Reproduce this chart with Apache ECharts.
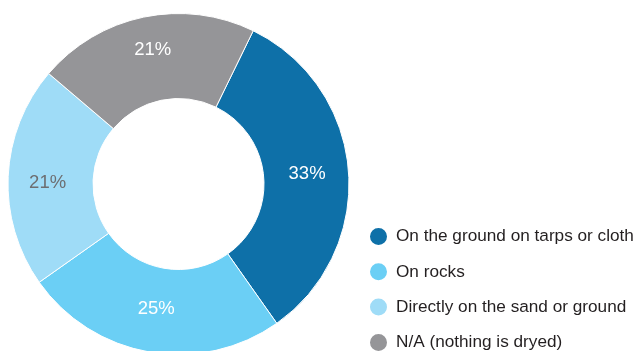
<!DOCTYPE html>
<html>
<head>
<meta charset="utf-8">
<script src="https://cdn.jsdelivr.net/npm/echarts@6/dist/echarts.min.js"></script>
<style>
  html, body { margin: 0; padding: 0; background: #ffffff; }
  #chart { width: 638px; height: 351px; }
</style>
</head>
<body>
<div id="chart"></div>
<script>
// Where the catch is dried
const categories = [
  'On the ground on tarps or cloth',
  'On rocks',
  'Directly on the sand or ground',
  'N/A (nothing is dryed)'
];
const shares = [33, 25, 21, 21];
const colors = ['#0e70a8', '#6bcff5', '#9fdcf7', '#959598'];
const labelColors = ['#ffffff', '#ffffff', '#6d6e71', '#ffffff'];
// small nudges so each percentage sits where it reads best in its slice
const labelOffsets = [[-2, 0], [0, -4], [0, 5], [1, -6]];

const chart = echarts.init(document.getElementById('chart'), null, { renderer: 'canvas' });

chart.setOption({
  animation: false,
  backgroundColor: '#ffffff',
  legend: {
    orient: 'vertical',
    left: 368,
    top: 226,
    height: 140,
    padding: 0,
    icon: 'circle',
    itemWidth: 19,
    itemHeight: 19,
    itemGap: 14.3,
    textStyle: {
      fontFamily: 'Liberation Sans, Arial, sans-serif',
      fontSize: 17.2,
      color: '#231f20',
      padding: [0, 0, 0, 3]
    },
    data: categories
  },
  series: [{
    type: 'pie',
    center: [178.5, 184],
    radius: [85.5, 170.5],
    startAngle: 64,
    clockwise: true,
    avoidLabelOverlap: false,
    itemStyle: { borderColor: '#ffffff', borderWidth: 1 },
    label: {
      show: true,
      position: 'inside',
      fontFamily: 'Liberation Sans, Arial, sans-serif',
      fontSize: 18.5,
      formatter: p => p.value + '%'
    },
    labelLine: { show: false },
    emphasis: { disabled: true },
    data: categories.map((name, i) => ({
      name,
      value: shares[i],
      itemStyle: { color: colors[i] },
      label: { color: labelColors[i], offset: labelOffsets[i] }
    }))
  }]
});
</script>
</body>
</html>
